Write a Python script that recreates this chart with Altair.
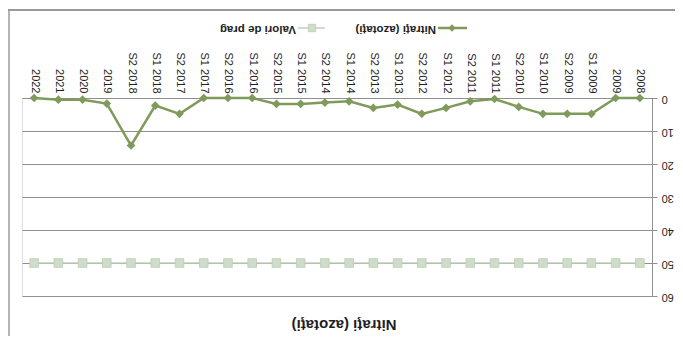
import altair as alt
import pandas as pd

# ---- data (chronological order) ----
categories = ["2008", "2009", "S1 2009", "S2 2009", "S1 2010", "S2 2010",
              "S1 2011", "S2 2011", "S1 2012", "S2 2012", "S1 2013", "S2 2013",
              "S1 2014", "S2 2014", "S1 2015", "S2 2015", "S1 2016", "S2 2016",
              "S1 2017", "S2 2017", "S1 2018", "S2 2018", "2019", "2020",
              "2021", "2022"]
nitrati = [0, 0, 4.8, 4.8, 4.8, 2.7,
           0.3, 1.0, 3.0, 4.8, 2.0, 3.0,
           1.0, 1.4, 1.8, 1.8, 0, 0,
           0, 4.8, 2.3, 14.4, 1.7, 0.5,
           0.5, 0]
prag = [50, 50, 50, 50, 50, 50,
        50, 50, 50, 50, 50, 50,
        50, 50, 50, 50, 50, 50,
        50, 50, 50, 50, 50, 50,
        50, 50]
series_names = ["Nitraţi (azotaţi)", "Valori de prag"]
y_ticks = [0, 10, 20, 30, 40, 50, 60]
chart_title = ["Nitraţi (azotaţi)"]

df_n = pd.DataFrame({"cat": categories, "value": nitrati})
df_p = pd.DataFrame({"cat": categories, "value": prag})

MAIN = "#7f9a5b"
PRAG_LINE = "#c2d2bb"
PRAG_FILL = "#cfdcc9"
GRID = "#8f8f8f"
TXT = "#1e1e1e"
FONT = "Liberation Sans"

x_enc = alt.X("cat:N",
              scale=alt.Scale(domain=list(reversed(categories)), type="point", padding=0.5),
              axis=alt.Axis(orient="top", title=None, labelAngle=90, labelAlign="right",
                            labelBaseline="middle", labelPadding=5, ticks=False,
                            labelFontSize=11, labelFont=FONT, labelColor=TXT,
                            domainColor=GRID, domainWidth=1, labelOverlap=False))
y_enc = alt.Y("value:Q",
              scale=alt.Scale(domain=[0, 60], reverse=True, nice=False),
              axis=alt.Axis(orient="right", title=None, values=y_ticks, labelAngle=180,
                            labelAlign="right", labelBaseline="middle", tickSize=5,
                            labelPadding=4, grid=True, gridColor=GRID, gridWidth=1,
                            tickColor=GRID, domainColor=GRID, labelFontSize=11,
                            labelFont=FONT, labelColor=TXT))

prag_line = alt.Chart(df_p).mark_line(color=PRAG_LINE, strokeWidth=1.5).encode(x=x_enc, y=y_enc)
prag_pts = alt.Chart(df_p).mark_point(shape="square", filled=True, size=75, color=PRAG_FILL,
                                      stroke="#bccdb4", strokeWidth=0.8, opacity=1).encode(x=x_enc, y=y_enc)
nit_line = alt.Chart(df_n).mark_line(color=MAIN, strokeWidth=2.5).encode(x=x_enc, y=y_enc)
nit_pts = alt.Chart(df_n).mark_point(shape="diamond", filled=True, size=75, color=MAIN,
                                     opacity=1).encode(x=x_enc, y=y_enc)

# ---- manual (upside-down) legend ----
leg_n = pd.DataFrame({"series": [series_names[0]]})
leg_p = pd.DataFrame({"series": [series_names[1]]})

ln_rule = alt.Chart(leg_n).mark_rule(color=MAIN, strokeWidth=2.5).encode(
    x=alt.value(416), x2=alt.value(445), y=alt.value(-70))
ln_pt = alt.Chart(leg_n).mark_point(shape="diamond", filled=True, size=55, color=MAIN, opacity=1).encode(
    x=alt.value(430), y=alt.value(-70))
ln_txt = alt.Chart(leg_n).mark_text(angle=180, align="left", baseline="middle", fontSize=11.5,
                                    fontWeight="bold", font=FONT, color=TXT).encode(
    x=alt.value(414), y=alt.value(-69), text="series:N")

lp_rule = alt.Chart(leg_p).mark_rule(color=PRAG_LINE, strokeWidth=1.5).encode(
    x=alt.value(276), x2=alt.value(303), y=alt.value(-70))
lp_pt = alt.Chart(leg_p).mark_point(shape="square", filled=True, size=55, color=PRAG_FILL,
                                    stroke="#bccdb4", strokeWidth=0.8, opacity=1).encode(
    x=alt.value(290), y=alt.value(-70))
lp_txt = alt.Chart(leg_p).mark_text(angle=180, align="left", baseline="middle", fontSize=11.5,
                                    fontWeight="bold", font=FONT, color=TXT).encode(
    x=alt.value(274), y=alt.value(-69), text="series:N")

# ---- title (upside down, below the plot) ----
title_df = pd.DataFrame({"t": chart_title})
title_txt = alt.Chart(title_df).mark_text(angle=180, align="center", baseline="middle", fontSize=15,
                                          fontWeight="bold", font=FONT, color=TXT).encode(
    x=alt.value(322), y=alt.value(227), text="t:N")

# ---- chart frame borders ----
bdf = pd.DataFrame({"b": [0]})
top_border = alt.Chart(bdf).mark_rule(color="#9a9a9a", strokeWidth=2).encode(
    x=alt.value(-14), x2=alt.value(660), y=alt.value(-88))
left_border = alt.Chart(bdf).mark_rule(color="#9a9a9a", strokeWidth=1.5).encode(
    x=alt.value(-13), y=alt.value(-88), y2=alt.value(240))

chart = alt.layer(
    top_border, left_border,
    prag_line, prag_pts, nit_line, nit_pts,
    ln_rule, ln_pt, ln_txt, lp_rule, lp_pt, lp_txt, title_txt,
).properties(
    width=630, height=198,
    autosize=alt.AutoSizeParams(type="none"),
    padding={"left": 14, "top": 90, "right": 23, "bottom": 40},
).configure_view(stroke=None).configure(background="white")

chart.save("out.html", embed_options={"renderer": "svg", "actions": False})
